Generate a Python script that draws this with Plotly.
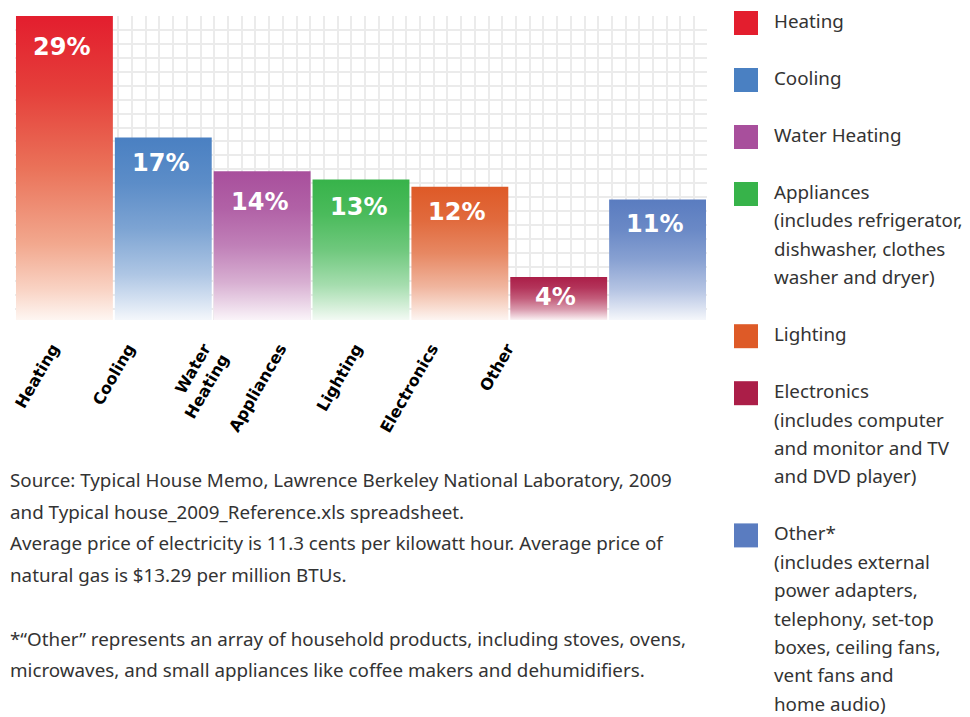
import json
import plotly.graph_objects as go

# ---------------- data ----------------
categories = ["Heating", "Cooling", "Water Heating", "Appliances", "Lighting", "Electronics", "Other"]
tick_labels = ["Heating", "Cooling", "Water<br>Heating", "Appliances", "Lighting", "Electronics", "Other"]
values = [29.0, 17.4, 14.2, 13.4, 12.7, 4.1, 11.5]
value_labels = ["29%", "17%", "14%", "13%", "12%", "4%", "11%"]

legend_lines = [
    ["Heating"],
    ["Cooling"],
    ["Water Heating"],
    ["Appliances", "(includes refrigerator,", "dishwasher, clothes", "washer and dryer)"],
    ["Lighting"],
    ["Electronics", "(includes computer", "and monitor and TV", "and DVD player)"],
    ["Other*", "(includes external", "power adapters,", "telephony, set-top",
     "boxes, ceiling fans,", "vent fans and", "home audio)"],
]

footnote_lines = [
    "Source: Typical House Memo, Lawrence Berkeley National Laboratory, 2009",
    "and Typical house_2009_Reference.xls spreadsheet.",
    "Average price of electricity is 11.3 cents per kilowatt hour. Average price of",
    "natural gas is $13.29 per million BTUs.",
    "",
    "*\u201cOther\u201d represents an array of household products, including stoves, ovens,",
    "microwaves, and small appliances like coffee makers and dehumidifiers.",
]

# ---------------- style ----------------
bar_colors = ["#e31e2e", "#4a80c2", "#a84f9c", "#37b34a", "#de5a27", "#ab1e48", "#5a7cc0"]
label_offsets = [31, 25, 31, 27, 25, 20, 25]   # px below bar top for value labels

W, H = 970, 717
L, R, T, B = 15, 263, 16, 397
PW, PH = W - L - R, H - T - B


def hex2rgb(h):
    h = h.lstrip("#")
    return [int(h[i:i + 2], 16) for i in (0, 2, 4)]


def rgb2hex(c):
    return "#%02x%02x%02x" % tuple(int(round(v)) for v in c)


def blend(c, w):
    r = hex2rgb(c)
    return rgb2hex([v + (255 - v) * w for v in r])


grad_offsets = [0, 0.25, 0.5, 0.75, 0.9, 1.0]
grad_white = [0, 0.1, 0.28, 0.55, 0.78, 0.94]
bar_stops = []
for c in bar_colors:
    bar_stops.append([[o, blend(c, w)] for o, w in zip(grad_offsets, grad_white)])
bar_stops[0] = [[0, "#e31e2e"], [0.25, "#e5403b"], [0.5, "#ea7259"], [0.75, "#f2a88e"],
                [0.9, "#f9d3c4"], [1.0, "#fef6f2"]]


def px_x(p):
    return (p - L) / PW


def px_y(p):
    return (T + PH - p) / PH


fig = go.Figure()
fig.add_trace(go.Bar(
    x=list(range(len(categories))), y=values, marker=dict(color=bar_colors, line=dict(width=0)),
    hoverinfo="skip", showlegend=False, name="share",
))
# ghost trace to carry the label axis
fig.add_trace(go.Scatter(
    x=list(range(len(categories))), y=values, xaxis="x2", mode="markers",
    marker=dict(opacity=0), hoverinfo="skip", showlegend=False,
))

annotations = []
for i, (v, lab) in enumerate(zip(values, value_labels)):
    annotations.append(dict(
        x=i, y=v, xref="x", yref="y", text=lab, showarrow=False,
        yanchor="middle", xanchor="center", yshift=-label_offsets[i], xshift=-3,
        font=dict(family="DejaVu Sans", size=24, color="white", weight="bold"),
    ))

# legend (manual)
shapes = []
leg_y = 21
line_h = 28.4
for i, lines in enumerate(legend_lines):
    sq_c = leg_y + 2
    shapes.append(dict(type="rect", xref="paper", yref="paper",
                       x0=px_x(734), x1=px_x(758), y0=px_y(sq_c - 12), y1=px_y(sq_c + 12),
                       fillcolor=bar_colors[i], line=dict(width=0), layer="above"))
    for j, t in enumerate(lines):
        annotations.append(dict(
            x=px_x(772), y=px_y(leg_y + j * line_h), xref="paper", yref="paper",
            text=t, showarrow=False, xanchor="left", yanchor="middle",
            font=dict(family="Noto Sans", size=18.8, color="#333333"),
        ))
    leg_y += (len(lines) - 1) * line_h + 57

# footnote
for j, t in enumerate(footnote_lines):
    if not t:
        continue
    annotations.append(dict(
        x=px_x(8), y=px_y(480 + j * 31.7), xref="paper", yref="paper",
        text=t, showarrow=False, xanchor="left", yanchor="middle",
        font=dict(family="Noto Sans", size=18.8, color="#333333"),
    ))

grid_color = "#ebebeb"
fig.update_layout(
    width=W, height=H, autosize=False,
    margin=dict(l=L, r=R, t=T, b=B, pad=0, autoexpand=False),
    paper_bgcolor="white", plot_bgcolor="white",
    bargap=0.02,
    showlegend=False,
    xaxis=dict(range=[-0.5, 6.5], showticklabels=False, ticks="", showgrid=False,
               zeroline=False, showline=False, automargin=False,
               minor=dict(showgrid=True, tick0=0.545, dtick=0.1387, gridcolor=grid_color,
                          gridwidth=2, ticks="")),
    xaxis2=dict(overlaying="x", anchor="y", side="bottom", range=[-0.498, 8.63],
                tickmode="array", tickvals=list(range(len(tick_labels))), ticktext=tick_labels,
                tickangle=-60, ticks="", showgrid=False, zeroline=False, showline=False,
                ticklabelstandoff=15, automargin=False,
                tickfont=dict(family="DejaVu Sans", size=16, color="black", weight="bold")),
    yaxis=dict(range=[0, 29], showticklabels=False, ticks="", zeroline=False, showline=False,
               automargin=False,
               showgrid=True, tick0=29, dtick=1.33, gridcolor=grid_color, gridwidth=2),
    annotations=annotations,
    shapes=shapes,
)

post = """
document.body.style.margin = '0';
document.body.style.padding = '0';
document.documentElement.style.overflow = 'hidden';
var gd = document.getElementById('{plot_id}');
var stops = %s;
var ns = 'http://www.w3.org/2000/svg';
var svg = gd.querySelector('svg.main-svg');
var defs = svg.querySelector('defs');
if (!defs) { defs = document.createElementNS(ns, 'defs'); svg.insertBefore(defs, svg.firstChild); }
var paths = gd.querySelectorAll('.barlayer .trace.bars .point path');
paths.forEach(function(p, i) {
  if (!stops[i]) return;
  var g = document.createElementNS(ns, 'linearGradient');
  g.setAttribute('id', 'barGrad' + i);
  g.setAttribute('x1', '0'); g.setAttribute('y1', '0');
  g.setAttribute('x2', '0'); g.setAttribute('y2', '1');
  stops[i].forEach(function(s) {
    var st = document.createElementNS(ns, 'stop');
    st.setAttribute('offset', s[0]);
    st.setAttribute('stop-color', s[1]);
    g.appendChild(st);
  });
  defs.appendChild(g);
  p.style.fill = 'url(#barGrad' + i + ')';
});
""" % json.dumps(bar_stops)

fig.write_html("out.html", post_script=post, config={"displayModeBar": False, "staticPlot": True})
